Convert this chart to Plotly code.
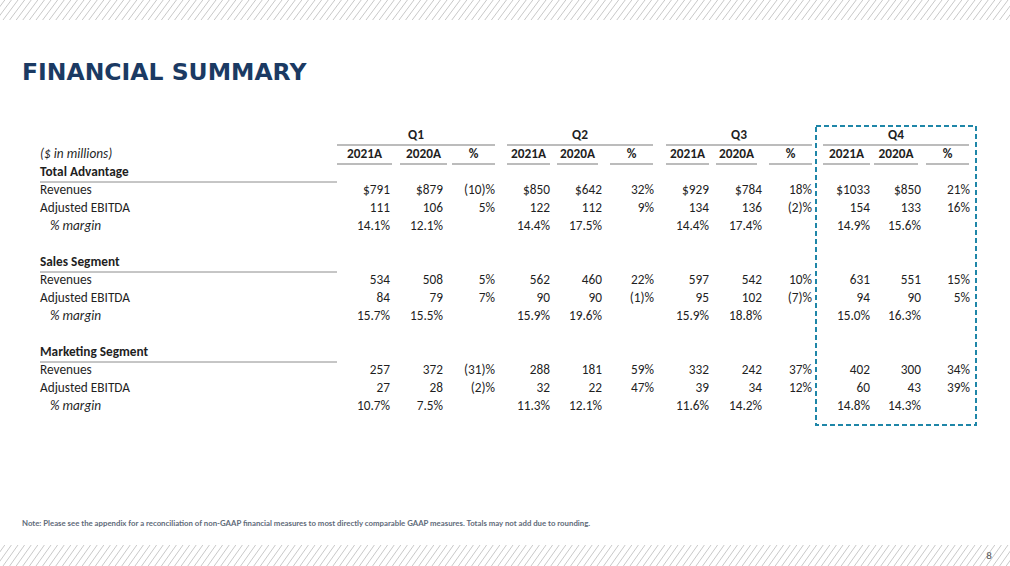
import plotly.graph_objects as go

# ---- data ----
quarters = ["Q1", "Q2", "Q3", "Q4"]
sub_headers = ["2021A", "2020A", "%"]
sections = ["Total Advantage", "Sales Segment", "Marketing Segment"]
line_items = ["Revenues", "Adjusted EBITDA", "% margin"]

# Total Advantage
ta_rev_2021 = [791, 850, 929, 1033]
ta_rev_2020 = [879, 642, 784, 850]
ta_rev_chg = [-10, 32, 18, 21]
ta_ebitda_2021 = [111, 122, 134, 154]
ta_ebitda_2020 = [106, 112, 136, 133]
ta_ebitda_chg = [5, 9, -2, 16]
ta_margin_2021 = [14.1, 14.4, 14.4, 14.9]
ta_margin_2020 = [12.1, 17.5, 17.4, 15.6]

# Sales Segment
sales_rev_2021 = [534, 562, 597, 631]
sales_rev_2020 = [508, 460, 542, 551]
sales_rev_chg = [5, 22, 10, 15]
sales_ebitda_2021 = [84, 90, 95, 94]
sales_ebitda_2020 = [79, 90, 102, 90]
sales_ebitda_chg = [7, -1, -7, 5]
sales_margin_2021 = [15.7, 15.9, 15.9, 15.0]
sales_margin_2020 = [15.5, 19.6, 18.8, 16.3]

# Marketing Segment
mkt_rev_2021 = [257, 288, 332, 402]
mkt_rev_2020 = [372, 181, 242, 300]
mkt_rev_chg = [-31, 59, 37, 34]
mkt_ebitda_2021 = [27, 32, 39, 60]
mkt_ebitda_2020 = [28, 22, 34, 43]
mkt_ebitda_chg = [-2, 47, 12, 39]
mkt_margin_2021 = [10.7, 11.3, 11.6, 14.8]
mkt_margin_2020 = [7.5, 12.1, 14.2, 14.3]

note = ("Note: Please see the appendix for a reconciliation of non-GAAP financial measures "
        "to most directly comparable GAAP measures. Totals may not add due to rounding.")


def money(v, dollar):
    return f"${v}" if dollar else str(v)


def chg(v):
    return f"({abs(v)})%" if v < 0 else f"{v}%"


def margin(v):
    return f"{v:.1f}%"


section_data = [
    (ta_rev_2021, ta_rev_2020, ta_rev_chg, ta_ebitda_2021, ta_ebitda_2020, ta_ebitda_chg,
     ta_margin_2021, ta_margin_2020, True),
    (sales_rev_2021, sales_rev_2020, sales_rev_chg, sales_ebitda_2021, sales_ebitda_2020,
     sales_ebitda_chg, sales_margin_2021, sales_margin_2020, False),
    (mkt_rev_2021, mkt_rev_2020, mkt_rev_chg, mkt_ebitda_2021, mkt_ebitda_2020, mkt_ebitda_chg,
     mkt_margin_2021, mkt_margin_2020, False),
]

# ---- layout constants (pixels) ----
W, H = 1010, 566
FONT = "Calibri, Carlito, Lato, sans-serif"
FS = 13.3
TXT = "#1f1f1f"
col_right = [[390, 443, 495], [550, 602, 654], [709, 762, 812], [870, 921, 970]]
seg_edges = [[(337, 392), (400, 447), (452, 495)],
             [(507, 550), (557, 598), (610, 653)],
             [(666, 709), (716, 757), (769, 812)],
             [(823, 870), (874, 918), (926, 969)]]
y_q, y_sub = 136, 155
section_y = [173, 263, 353]
ROW = 18
label_x = 40

fig = go.Figure()

# row labels
lab_x, lab_y, lab_t = [], [], []
for si, s in enumerate(sections):
    y0 = section_y[si]
    for k, item in enumerate(line_items):
        if item == "% margin":
            continue
        lab_x.append(label_x)
        lab_y.append(y0 + ROW * (k + 1))
        lab_t.append(item)
fig.add_trace(go.Scatter(x=lab_x, y=lab_y, text=lab_t, mode="text", textposition="middle right",
                         textfont=dict(family=FONT, size=FS, color=TXT), hoverinfo="skip"))
fig.add_trace(go.Scatter(x=[label_x] * len(sections), y=section_y, text=sections, mode="text",
                         textposition="middle right",
                         textfont=dict(family=FONT, size=FS, color=TXT, weight="bold"),
                         hoverinfo="skip"))
fig.add_trace(go.Scatter(x=[label_x + 10] * len(sections) + [label_x],
                         y=[y + ROW * 3 for y in section_y] + [y_sub],
                         text=["% margin"] * len(sections) + ["($ in millions)"],
                         mode="text", textposition="middle right",
                         textfont=dict(family=FONT, size=FS, color=TXT, style="italic"),
                         hoverinfo="skip"))

# headers
hx, ht = [], []
qx = []
for qi, q in enumerate(quarters):
    segs = seg_edges[qi]
    qx.append((segs[0][0] + segs[-1][1]) / 2)
    for ci, h in enumerate(sub_headers):
        hx.append((segs[ci][0] + segs[ci][1]) / 2)
        ht.append(h)
fig.add_trace(go.Scatter(x=qx, y=[y_q] * 4, text=quarters, mode="text", textposition="middle center",
                         textfont=dict(family=FONT, size=FS, color=TXT, weight="bold"),
                         hoverinfo="skip"))
fig.add_trace(go.Scatter(x=hx, y=[y_sub] * len(hx), text=ht, mode="text",
                         textposition="middle center",
                         textfont=dict(family=FONT, size=FS, color=TXT, weight="bold"),
                         hoverinfo="skip"))

# values
for qi in range(4):
    for ci in range(3):
        xs, ys, ts = [], [], []
        for si, d in enumerate(section_data):
            r21, r20, rc, e21, e20, ec, m21, m20, dollar = d
            y0 = section_y[si]
            if ci == 0:
                vals = [money(r21[qi], dollar), str(e21[qi]), margin(m21[qi])]
            elif ci == 1:
                vals = [money(r20[qi], dollar), str(e20[qi]), margin(m20[qi])]
            else:
                vals = [chg(rc[qi]), chg(ec[qi])]
            for k, v in enumerate(vals):
                xs.append(col_right[qi][ci])
                ys.append(y0 + ROW * (k + 1))
                ts.append(v)
        fig.add_trace(go.Scatter(x=xs, y=ys, text=ts, mode="text", textposition="middle left",
                                 textfont=dict(family=FONT, size=FS, color=TXT),
                                 hoverinfo="skip"))

shapes = []
# header rules
for qi in range(4):
    segs = seg_edges[qi]
    shapes.append(dict(type="line", x0=segs[0][0], x1=segs[-1][1], y0=145, y1=145,
                       line=dict(color="#a6a6a6", width=1.5)))
    for a, b in segs:
        shapes.append(dict(type="line", x0=a, x1=b, y0=164, y1=164,
                           line=dict(color="#a6a6a6", width=1.5)))
# section underlines
for y in section_y:
    shapes.append(dict(type="line", x0=label_x, x1=337, y0=y + 9, y1=y + 9,
                       line=dict(color="#8c8c8c", width=1)))
# Q4 highlight box
shapes.append(dict(type="rect", x0=816, x1=976, y0=126, y1=425,
                   line=dict(color="#1f86a8", width=2, dash="5px,3px")))

# hatched bands
path = []
for top, bot in [(0, 20), (545, 566)]:
    x = -30.0
    while x < W + 10:
        path.append(f"M{x:.1f},{bot} L{x + 15:.1f},{top}")
        x += 6.6
shapes.append(dict(type="path", path=" ".join(path), line=dict(color="#c9c9c9", width=1),
                   layer="below"))

fig.add_trace(go.Scatter(x=[22], y=[74], text=["FINANCIAL SUMMARY"], mode="text",
                         textposition="middle right",
                         textfont=dict(family="DejaVu Sans", size=23.5, color="#1b3a63",
                                       weight="bold"),
                         hoverinfo="skip"))
fig.add_trace(go.Scatter(x=[22], y=[524], text=[note], mode="text", textposition="middle right",
                         textfont=dict(family="Lato", size=7.8, color="#5f6b7a", weight="bold"),
                         hoverinfo="skip"))
fig.add_trace(go.Scatter(x=[989], y=[556], text=["8"], mode="text", textposition="middle center",
                         textfont=dict(family=FONT, size=11, color="#595959"),
                         hoverinfo="skip"))

fig.update_layout(
    width=W, height=H, margin=dict(l=0, r=0, t=0, b=0),
    paper_bgcolor="white", plot_bgcolor="white", showlegend=False,
    xaxis=dict(range=[0, W], visible=False, fixedrange=True),
    yaxis=dict(range=[H, 0], visible=False, fixedrange=True),
    shapes=shapes,
)

fig.write_html("out.html", config={"displayModeBar": False},
               post_script="document.body.style.margin='0';")
